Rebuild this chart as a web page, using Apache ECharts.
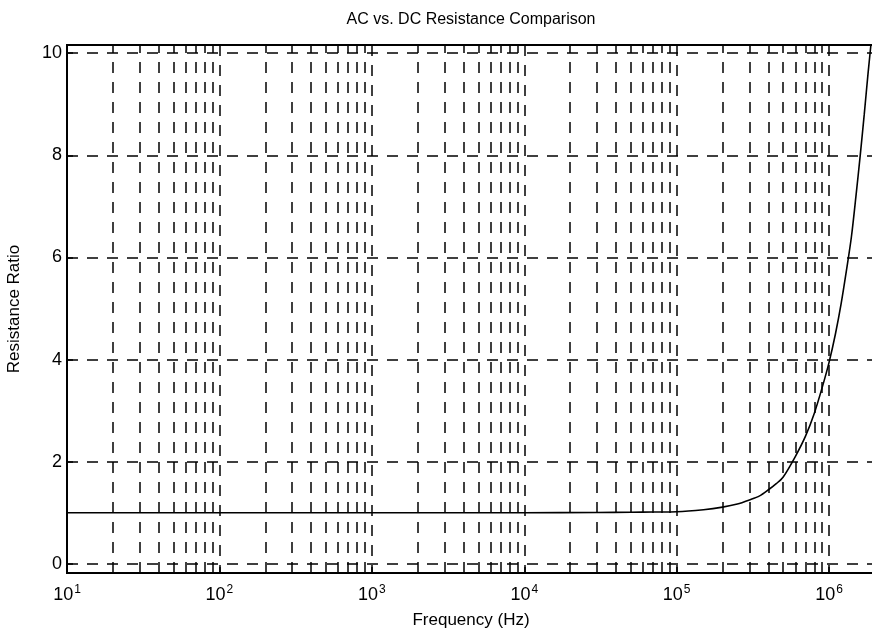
<!DOCTYPE html>
<html>
<head>
<meta charset="utf-8">
<script src="https://cdn.jsdelivr.net/npm/echarts@6/dist/echarts.min.js"></script>
<style>html,body{margin:0;padding:0;background:#fff}#c{width:872px;height:635px}</style>
</head>
<body>
<div id="c"></div>
<script>
const titleText = 'AC vs. DC Resistance Comparison';
const xAxisTitle = 'Frequency (Hz)';
const yAxisTitle = 'Resistance Ratio';
const frequencyHz = [10, 100, 1000, 10000, 30000, 50000, 70000, 100000, 150000, 200000, 250000, 300000, 350000, 400000, 450000, 500000, 600000, 700000, 800000, 900000, 1000000, 1100000, 1200000, 1300000, 1400000, 1500000, 1600000, 1700000, 1800000, 1900000, 2000000];
const resistanceRatio = [1.0, 1.0, 1.0, 1.0, 1.005, 1.01, 1.015, 1.02, 1.06, 1.11, 1.17, 1.25, 1.33, 1.45, 1.57, 1.7, 2.1, 2.5, 2.95, 3.45, 3.95, 4.5, 5.1, 5.75, 6.4, 7.2, 8.0, 8.8, 9.6, 10.3, 11.0];
const minorGridFreqs = [];
for (let e = 1; e <= 5; e++) { for (let m = 2; m <= 9; m++) minorGridFreqs.push(m * Math.pow(10, e)); }

const FONT = '"Liberation Sans", Arial, Helvetica, sans-serif';
const dash = [11, 9];
const chart = echarts.init(document.getElementById('c'), null, {renderer: 'canvas'});
chart.setOption({
  animation: false,
  backgroundColor: '#fff',
  grid: {left: 67, top: 45, width: 808, bottom: 62, show: true, borderColor: '#000', borderWidth: 2, backgroundColor: 'transparent', containLabel: false, outerBoundsMode: 'none'},
  graphic: [{type: 'text', x: 471, y: 20, style: {text: titleText, fill: '#000', font: '16px ' + FONT, textAlign: 'center', textVerticalAlign: 'middle'}}],
  xAxis: {
    type: 'log', logBase: 10, min: 10, max: 2000000,
    name: xAxisTitle, nameLocation: 'middle', nameGap: 39,
    nameTextStyle: {color: '#000', fontSize: 17, fontFamily: FONT},
    axisLine: {show: true, onZero: false, lineStyle: {color: '#000', width: 2}},
    axisTick: {show: true, inside: true, length: 6, lineStyle: {color: '#000', width: 1.5}},
    minorTick: {show: false},
    splitLine: {show: true, lineStyle: {color: '#000', width: 1.5, type: dash}},
    axisLabel: {
      margin: 11, color: '#000',
      formatter: function (v) {
        const e = Math.log10(v);
        if (Math.abs(e - Math.round(e)) > 1e-6) return '';
        return '{b|10}{s|' + Math.round(e) + '}';
      },
      rich: {
        b: {fontSize: 18, fontFamily: FONT, color: '#000'},
        s: {fontSize: 12, fontFamily: FONT, color: '#000', padding: [0, 0, 11, 1]}
      }
    }
  },
  yAxis: {
    type: 'value', min: -0.18, max: 10.16, splitNumber: 5,
    name: yAxisTitle, nameLocation: 'middle', nameGap: 44, nameRotate: 90,
    nameTextStyle: {color: '#000', fontSize: 17, fontFamily: FONT},
    axisLine: {show: true, onZero: false, lineStyle: {color: '#000', width: 2}},
    axisTick: {show: true, inside: true, length: 6, lineStyle: {color: '#000', width: 1.5}},
    splitLine: {show: true, lineStyle: {color: '#000', width: 1.5, type: dash}},
    axisLabel: {
      margin: 5, color: '#000', fontSize: 18, fontFamily: FONT,
      formatter: function (v) {
        const r = Math.round(v);
        if (Math.abs(v - r) > 1e-6 || r % 2 !== 0) return '';
        return String(r);
      }
    }
  },
  series: [{
    type: 'line',
    data: frequencyHz.map((f, i) => [f, resistanceRatio[i]]),
    showSymbol: false, symbol: 'none', smooth: 0.3, clip: true,
    lineStyle: {color: '#000', width: 1.6},
    silent: true,
    markLine: {
      silent: true, symbol: ['none', 'none'], animation: false,
      label: {show: false},
      lineStyle: {color: '#000', width: 1.5, type: dash},
      emphasis: {disabled: true},
      data: minorGridFreqs.map(f => ({xAxis: f}))
    }
  }]
});
</script>
</body>
</html>
